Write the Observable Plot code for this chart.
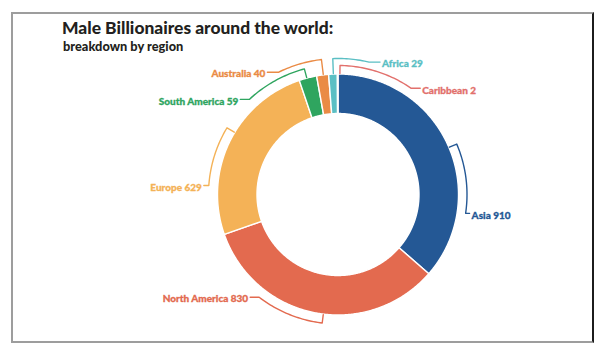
<!DOCTYPE html>
<html><head><meta charset="utf-8">
<script src="https://cdn.jsdelivr.net/npm/d3@7"></script>
<script src="https://cdn.jsdelivr.net/npm/@observablehq/plot@0.6"></script>
<style>
html,body{margin:0;padding:0;background:#fff;}
#wrap{position:relative;width:610px;height:358px;overflow:hidden;font-family:Lato,sans-serif;}
#chart{position:absolute;left:0;top:0;}
#frame{position:absolute;left:11px;top:12px;width:579px;height:327px;border:2px solid #9d9d9d;border-right-color:#1c1c1c;}
#title{position:absolute;left:62px;top:18.6px;font-size:17.4px;line-height:18px;font-weight:900;color:#231f20;white-space:nowrap;}
#subtitle{position:absolute;left:63px;top:39.7px;font-size:12.8px;line-height:13px;font-weight:900;color:#231f20;white-space:nowrap;}
</style></head>
<body>
<div id="wrap">
  <div id="chart"></div>
  <div id="frame"></div>
  <div id="title">Male Billionaires around the world:</div>
  <div id="subtitle">breakdown by region</div>
</div>
<script>
// ---- data ----
const regions = ["Asia", "North America", "Europe", "South America", "Australia", "Africa", "Caribbean"];
const counts = [910, 830, 629, 59, 40, 29, 2];

// ---- styles ----
const colors = ["#245895", "#e36a4f", "#f4b257", "#2fa55f", "#ea8b45", "#5bbfc4", "#e2706c"];

// ---- layout (degrees clockwise from 12 o'clock) ----
const CX = 337.5, CY = 194, R_OUT = 120.5, R_IN = 81;
const tickAngle = [67, 187, 301, 345, 353, 357.8, 0.9];
const endAngle  = [98.4, 217.5, 274, 317, 334, 373.2, 34.6];
const ringR     = [129, 129.5, 129.5, 130, 136, 136, 129];
const hookLen   = [4, 9, 5, 9, 11, 11, 9];

const rad = d => d * Math.PI / 180;
const pt = (a, r) => [CX + r * Math.sin(a), CY - r * Math.cos(a)];

const arcs = d3.pie().sort(null).value(d => d)(counts);

// slice polygons
const slicePts = [];
arcs.forEach((a, i) => {
  const n = Math.max(2, Math.ceil((a.endAngle - a.startAngle) / rad(0.5)));
  for (let k = 0; k <= n; k++) {
    const t = a.startAngle + (a.endAngle - a.startAngle) * k / n;
    const [x, y] = pt(t, R_OUT);
    slicePts.push({region: regions[i], x, y});
  }
  for (let k = n; k >= 0; k--) {
    const t = a.startAngle + (a.endAngle - a.startAngle) * k / n;
    const [x, y] = pt(t, R_IN);
    slicePts.push({region: regions[i], x, y});
  }
});

// leader brackets
const leaderPts = [];
const labels = [];
regions.forEach((reg, i) => {
  const a0 = rad(tickAngle[i]), a1 = rad(endAngle[i]), r = ringR[i];
  let [x, y] = pt(a0, R_OUT + 0.5);
  leaderPts.push({region: reg, x, y});
  const n = Math.max(2, Math.ceil(Math.abs(a1 - a0) / rad(1)));
  for (let k = 0; k <= n; k++) {
    const [px, py] = pt(a0 + (a1 - a0) * k / n, r);
    leaderPts.push({region: reg, x: px, y: py});
  }
  const [ex, ey] = pt(a1, r);
  const dir = Math.sin(a1) >= 0 ? 1 : -1;
  const hx = ex + dir * hookLen[i];
  leaderPts.push({region: reg, x: hx, y: ey});
  labels.push({region: reg, count: counts[i], x: hx + dir * 2, y: ey, side: dir});
});

const font = {fontFamily: "Lato, sans-serif", fontWeight: 900, fontSize: 10, strokeWidth: 0.3, paintOrder: "fill"};

const plot = Plot.plot({
  width: 610, height: 358, margin: 0,
  style: {background: "transparent", overflow: "visible"},
  x: {domain: [0, 610], range: [0, 610], axis: null},
  y: {domain: [0, 358], range: [0, 358], axis: null},
  color: {domain: regions, range: colors},
  marks: [
    Plot.line(slicePts, {x: "x", y: "y", z: "region", fill: "region", stroke: "white", strokeWidth: 1.4, curve: "linear-closed"}),
    Plot.line(leaderPts, {x: "x", y: "y", z: "region", stroke: "region", strokeWidth: 1.4, curve: "linear"}),
    Plot.text(labels.filter(d => d.side > 0), {x: "x", y: "y", text: d => `${d.region} ${d.count}`, fill: "region", stroke: "region", textAnchor: "start", lineAnchor: "middle", dy: 2, ...font}),
    Plot.text(labels.filter(d => d.side < 0), {x: "x", y: "y", text: d => `${d.region} ${d.count}`, fill: "region", stroke: "region", textAnchor: "end", lineAnchor: "middle", dy: 2, ...font})
  ]
});
document.getElementById("chart").appendChild(plot);
</script>
</body></html>
